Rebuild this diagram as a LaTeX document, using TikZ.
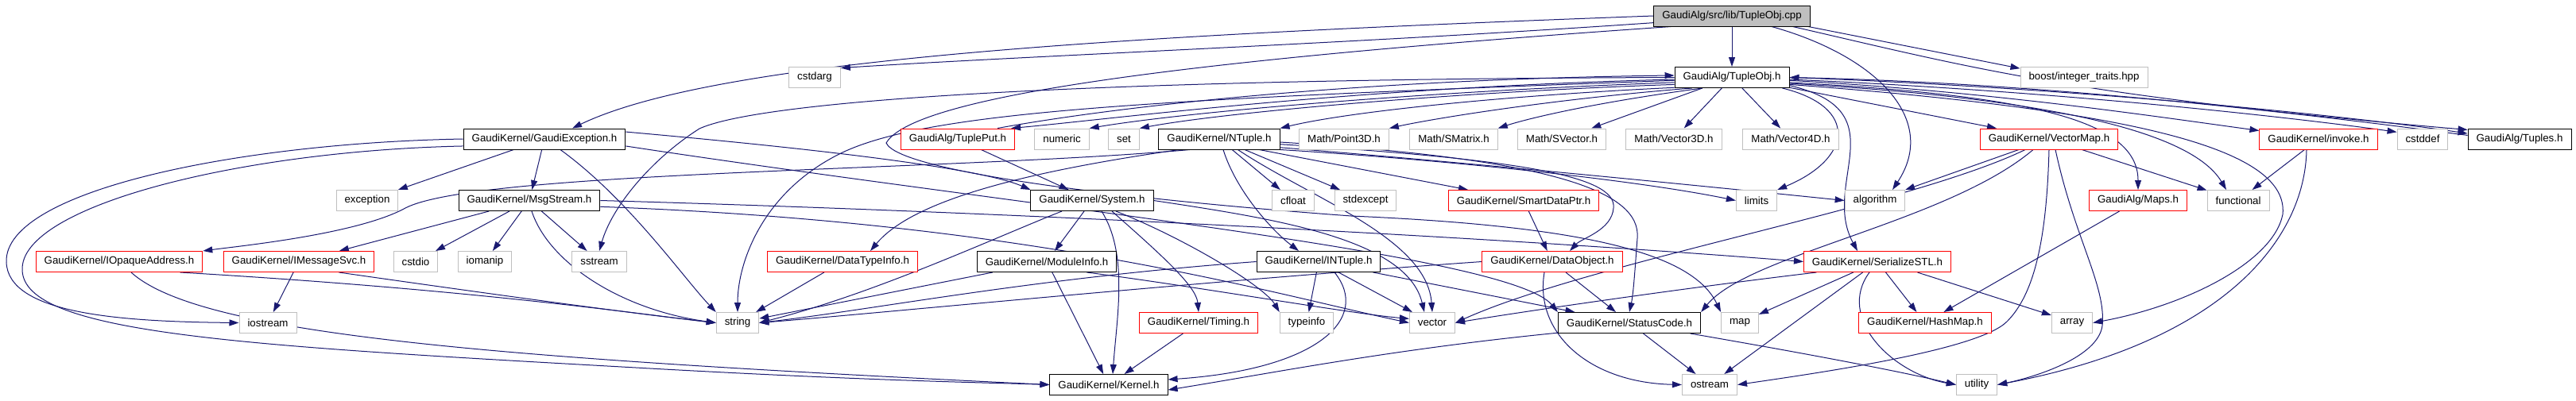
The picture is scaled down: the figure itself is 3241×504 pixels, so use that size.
\documentclass[tikz,border=0pt]{standalone}
\usepackage{fontspec}
\setmainfont{Liberation Sans}
\usetikzlibrary{arrows.meta}
\definecolor{edgec}{HTML}{191970}
\definecolor{greyc}{HTML}{BFBFBF}
\pgfdeclarelayer{edgelayer}
\pgfsetlayers{edgelayer,main}
\begin{document}
\begin{tikzpicture}[x=1pt,y=-1pt,
 box/.style={draw,line width=1pt,fill=white,minimum height=26pt,inner xsep=10.5pt,inner ysep=0pt,font=\fontsize{13.3}{16}\selectfont},
 nb/.style={box,draw=black},
 nr/.style={box,draw=red},
 ng/.style={box,draw=greyc},
 dep/.style={draw=edgec,line width=1pt,-{Triangle[length=12pt,width=8pt]}}]
\useasboundingbox (0,0) rectangle (3241,504);
% row 0
\node[nb,fill=greyc] (cpp) at (2179,20) {GaudiAlg/src/lib/TupleObj.cpp};
% row 1
\node[ng] (cstdarg) at (1025,97.5) {cstdarg};
\node[nb] (tobjh) at (2179,97.5) {GaudiAlg/TupleObj.h};
\node[ng] (boost) at (2622,97.5) {boost/integer\_traits.hpp};
% row 2
\node[nb] (gexc) at (685,175) {GaudiKernel/GaudiException.h};
\node[nr] (tput) at (1205,175) {GaudiAlg/TuplePut.h};
\node[ng] (numeric) at (1336,175) {numeric};
\node[ng] (set) at (1414,175) {set};
\node[nb] (ntuple) at (1534,175) {GaudiKernel/NTuple.h};
\node[ng] (p3d) at (1691,175) {Math/Point3D.h};
\node[ng] (smat) at (1829,175) {Math/SMatrix.h};
\node[ng] (svec) at (1965,175) {Math/SVector.h};
\node[ng] (v3d) at (2106,175) {Math/Vector3D.h};
\node[ng] (v4d) at (2253,175) {Math/Vector4D.h};
\node[nr] (vmap) at (2578,175) {GaudiKernel/VectorMap.h};
\node[nr] (invoke) at (2917,175) {GaudiKernel/invoke.h};
\node[ng] (cstddef) at (3048,175) {cstddef};
\node[nb] (tuples) at (3170,175) {GaudiAlg/Tuples.h};
% row 3
\node[ng] (exception) at (462,252.5) {exception};
\node[nb] (msgs) at (666,252.5) {GaudiKernel/MsgStream.h};
\node[nb] (system) at (1374,252.5) {GaudiKernel/System.h};
\node[ng] (cfloat) at (1627,252.5) {cfloat};
\node[ng] (stdexcept) at (1718,252.5) {stdexcept};
\node[nr] (sdptr) at (1917,252.5) {GaudiKernel/SmartDataPtr.h};
\node[ng] (limits) at (2210,252.5) {limits};
\node[ng] (algorithm) at (2359,252.5) {algorithm};
\node[nr] (maps) at (2690,252.5) {GaudiAlg/Maps.h};
\node[ng] (functional) at (2816,252.5) {functional};
% row 4
\node[nr] (iopaque) at (150,329.5) {GaudiKernel/IOpaqueAddress.h};
\node[nr] (imsg) at (376,329.5) {GaudiKernel/IMessageSvc.h};
\node[ng] (cstdio) at (523,329.5) {cstdio};
\node[ng] (iomanip) at (610,329.5) {iomanip};
\node[ng] (sstream) at (754,329.5) {sstream};
\node[nr] (dtinfo) at (1060,329.5) {GaudiKernel/DataTypeInfo.h};
\node[nb] (modinfo) at (1317,329.5) {GaudiKernel/ModuleInfo.h};
\node[nb] (intuple) at (1659,329.5) {GaudiKernel/INTuple.h};
\node[nr] (dobj) at (1953,329.5) {GaudiKernel/DataObject.h};
\node[nr] (serial) at (2362,329.5) {GaudiKernel/SerializeSTL.h};
% row 5
\node[ng] (iostream) at (337,406.5) {iostream};
\node[ng] (string) at (928,406.5) {string};
\node[nr] (timing) at (1508,406.5) {GaudiKernel/Timing.h};
\node[ng] (typeinfo) at (1644,406.5) {typeinfo};
\node[ng] (vector) at (1802,406.5) {vector};
\node[nb] (statuscode) at (2050,406.5) {GaudiKernel/StatusCode.h};
\node[ng] (map) at (2189,406.5) {map};
\node[nr] (hashmap) at (2422,406.5) {GaudiKernel/HashMap.h};
\node[ng] (array) at (2607,406.5) {array};
% row 6
\node[nb] (kernel) at (1395,484.5) {GaudiKernel/Kernel.h};
\node[ng] (ostream) at (2151,484.5) {ostream};
\node[ng] (utility) at (2487,484.5) {utility};

\begin{pgfonlayer}{edgelayer}
% ---- edges from TupleObj.cpp
\draw[dep] (cpp) -- (tobjh);
\draw[dep] (cpp.west) .. controls (1400,45) and (900,75) .. ([xshift=35pt]gexc.north);
\draw[dep] (cpp.185) .. controls (1700,55) and (1300,70) .. (cstdarg.20);
\draw[dep] (cpp.190) .. controls (1500,75) and (1150,120) .. (1115,180) .. controls (1130,215) and (1400,250) .. (1700,272) .. controls (2000,285) and (2130,320) .. (map.north west);
\draw[dep] (cpp.-8) -- (boost.172);
\draw[dep] (cpp.-10) .. controls (2480,85) and (2600,120) .. (tuples.170);
\draw[dep] ([xshift=50pt]cpp.south) .. controls (2360,70) and (2440,150) .. ([xshift=22pt]algorithm.north);

% ---- edges from TupleObj.h
\draw[dep] (tobjh.182) .. controls (1700,110) and (1400,150) .. ([xshift=-5pt]tput.north east);
\draw[dep] ([xshift=-22pt]tput.north east) .. controls (1400,135) and (1700,100) .. (tobjh.178);
\draw[dep] (tobjh.185) .. controls (1800,115) and (1500,140) .. (numeric.north east);
\draw[dep] (tobjh.187) .. controls (1850,115) and (1550,140) .. (set.north east);
\draw[dep] (tobjh.190) .. controls (1900,120) and (1700,140) .. (ntuple.north east);
\draw[dep] (tobjh.195) .. controls (1950,125) and (1800,150) .. (p3d.north east);
\draw[dep] (tobjh.200) .. controls (2000,130) and (1920,150) .. (smat.north east);
\draw[dep] (tobjh) -- (svec);
\draw[dep] (tobjh) -- (v3d);
\draw[dep] (tobjh) -- (v4d);
\draw[dep] (tobjh.180) .. controls (1300,100) and (950,130) .. (880,162) .. controls (820,200) and (770,260) .. (sstream.north);
\draw[dep] (tobjh.183) .. controls (1450,125) and (1170,140) .. (1060,192) .. controls (960,240) and (928,330) .. (string.north);
\draw[dep] (tobjh.-12) .. controls (2340,135) and (2330,200) .. (limits.north east);
\draw[dep] (tobjh.-10) -- ([xshift=-66pt]vmap.north);
\draw[dep] (tobjh.-8) .. controls (2390,140) and (2290,230) .. ([xshift=-25pt]serial.north);
\draw[dep] (tobjh.-3) .. controls (2500,115) and (2700,145) .. (invoke.172);
\draw[dep] (tobjh.-2) .. controls (2600,115) and (2900,150) .. (cstddef.165);
\draw[dep] (tobjh.0) .. controls (2600,110) and (2950,145) .. (tuples.174);
\draw[dep] (tuples.176) .. controls (2950,150) and (2600,105) .. (tobjh.east);
\draw[dep] (tobjh.-5) .. controls (2550,120) and (2690,150) .. (maps.north);
\draw[dep] (tobjh.-6) .. controls (2600,125) and (2760,170) .. ([xshift=-15pt]functional.north);
\draw[dep] (tobjh.-7) .. controls (2700,140) and (2880,190) .. (2872,270) .. controls (2860,330) and (2750,385) .. (array.east);

% ---- GaudiException.h
\draw[dep] (gexc) -- (exception);
\draw[dep] (gexc) -- (msgs);
\draw[dep] (gexc.west) .. controls (300,180) and (5,240) .. (8,330) .. controls (10,395) and (150,405) .. (iostream.west);
\draw[dep] (gexc.185) .. controls (300,190) and (25,260) .. (28,340) .. controls (30,420) and (300,435) .. (800,463) .. controls (1100,480) and (1250,482) .. (kernel.west);
\draw[dep] (gexc.5) .. controls (1000,185) and (1230,210) .. (system.north west);
\draw[dep] ([xshift=20pt]gexc.south) .. controls (790,250) and (860,350) .. (string.north west);
\draw[dep] (gexc.-5) .. controls (1300,262) and (1900,320) .. (statuscode.north west);

% ---- MsgStream.h
\draw[dep] (msgs) -- (imsg);
\draw[dep] (msgs) -- (cstdio);
\draw[dep] (msgs) -- (iomanip);
\draw[dep] (msgs) -- (sstream);
\draw[dep] ([xshift=3pt]msgs.south) .. controls (690,330) and (780,390) .. (string.west);
\draw[dep] (msgs.east) .. controls (1300,268) and (1900,300) .. (serial.west);
\draw[dep] (msgs.-5) .. controls (1300,280) and (1600,370) .. (vector.west);

% ---- NTuple.h
\draw[dep] (ntuple.-160) .. controls (1200,215) and (600,215) .. (510,262) .. controls (450,295) and (300,310) .. (iopaque.north east);
\draw[dep] (ntuple.-165) .. controls (1300,215) and (1150,250) .. ([xshift=35pt]dtinfo.north);
\draw[dep] (ntuple) -- (cfloat);
\draw[dep] (ntuple) -- (stdexcept);
\draw[dep] (ntuple.-15) -- ([xshift=-70pt]sdptr.north);
\draw[dep] ([xshift=5pt]ntuple.south) .. controls (1555,240) and (1600,290) .. ([xshift=-25pt]intuple.north);
\draw[dep] (ntuple.-10) .. controls (1800,200) and (2050,225) .. (limits.west);
\draw[dep] (ntuple.-8) .. controls (1850,205) and (2150,235) .. (algorithm.west);
\draw[dep] (ntuple.-30) .. controls (1650,250) and (1795,300) .. (vector.north);
\draw[dep] (ntuple.-5) .. controls (1900,200) and (2035,220) .. (2030,262) .. controls (2028,290) and (1990,300) .. ([xshift=22pt]dobj.north);
\draw[dep] (ntuple.-3) .. controls (1950,200) and (2065,240) .. (2060,300) .. controls (2057,340) and (2055,370) .. (statuscode.north);

% ---- System.h and friends
\draw[dep] (tput) -- (system);
\draw[dep] (system) -- (modinfo);
\draw[dep] ([xshift=12pt]system.south) .. controls (1420,320) and (1405,400) .. ([xshift=5pt]kernel.north);
\draw[dep] ([xshift=25pt]system.south) .. controls (1460,320) and (1505,360) .. (timing.north);
\draw[dep] ([xshift=30pt]system.south) .. controls (1490,300) and (1590,360) .. (typeinfo.north west);
\draw[dep] ([xshift=-38pt]system.south) .. controls (1250,300) and (1100,370) .. (string.east);
\draw[dep] (system.east) .. controls (1600,275) and (1770,300) .. ([xshift=-10pt]vector.north);
\draw[dep] (dtinfo) -- (string);
\draw[dep] (modinfo) -- (string);
\draw[dep] (modinfo) -- (kernel);
\draw[dep] (modinfo.-15) .. controls (1500,360) and (1700,395) .. (vector.170);
\draw[dep] (timing) -- (kernel);

% ---- INTuple.h
\draw[dep] (intuple) -- (typeinfo);
\draw[dep] (intuple) -- (vector);
\draw[dep] ([xshift=20pt]intuple.south) .. controls (1725,400) and (1660,465) .. (kernel.5);
\draw[dep] (intuple.west) .. controls (1300,350) and (1100,390) .. (string.east);
\draw[dep] (intuple) -- (statuscode);

% ---- DataObject.h, SmartDataPtr.h, StatusCode.h
\draw[dep] (sdptr) -- (dobj);
\draw[dep] (dobj.west) .. controls (1500,355) and (1100,395) .. (string.east);
\draw[dep] (dobj) -- (statuscode);
\draw[dep] ([xshift=-10pt]dobj.south) .. controls (1930,420) and (2000,482) .. (ostream.west);
\draw[dep] (statuscode.-172) .. controls (1750,440) and (1600,470) .. (kernel.-5);
\draw[dep] (statuscode) -- (ostream);
\draw[dep] (statuscode.-10) .. controls (2300,450) and (2400,470) .. (utility.west);

% ---- left side
\draw[dep] (iopaque.-10) .. controls (600,365) and (800,395) .. (string.west);
\draw[dep] ([xshift=15pt]iopaque.south) .. controls (250,420) and (600,450) .. (kernel.west);
\draw[dep] (imsg) -- (iostream);
\draw[dep] (imsg.-15) .. controls (650,375) and (800,395) .. (string.west);

% ---- SerializeSTL.h
\draw[dep] (serial.-170) .. controls (2100,365) and (1900,395) .. (vector.east);
\draw[dep] (serial) -- (map);
\draw[dep] (serial) -- (ostream);
\draw[dep] (serial) -- (hashmap);
\draw[dep] (serial.-15) -- (array.160);
\draw[dep] ([xshift=-10pt]serial.south) .. controls (2310,400) and (2380,470) .. (utility.west);

% ---- VectorMap.h, Maps.h, invoke.h
\draw[dep] (vmap) -- (algorithm);
\draw[dep] ([xshift=-30pt]vmap.south) .. controls (2400,260) and (2000,330) .. (vector.east);
\draw[dep] ([xshift=-20pt]vmap.south) .. controls (2450,280) and (2200,320) .. (statuscode.north east);
\draw[dep] (vmap) -- (functional);
\draw[dep] (vmap.south) .. controls (2575,300) and (2560,370) .. (2525,405) .. controls (2490,440) and (2300,468) .. (ostream.east);
\draw[dep] ([xshift=8pt]vmap.south) .. controls (2610,300) and (2650,360) .. (2645,410) .. controls (2640,450) and (2560,475) .. (utility.east);
\draw[dep] (maps) -- (hashmap);
\draw[dep] (invoke) -- (functional);
\draw[dep] ([xshift=-15pt]invoke.south) .. controls (2900,300) and (2800,430) .. (utility.east);
\end{pgfonlayer}
\end{tikzpicture}
\end{document}
